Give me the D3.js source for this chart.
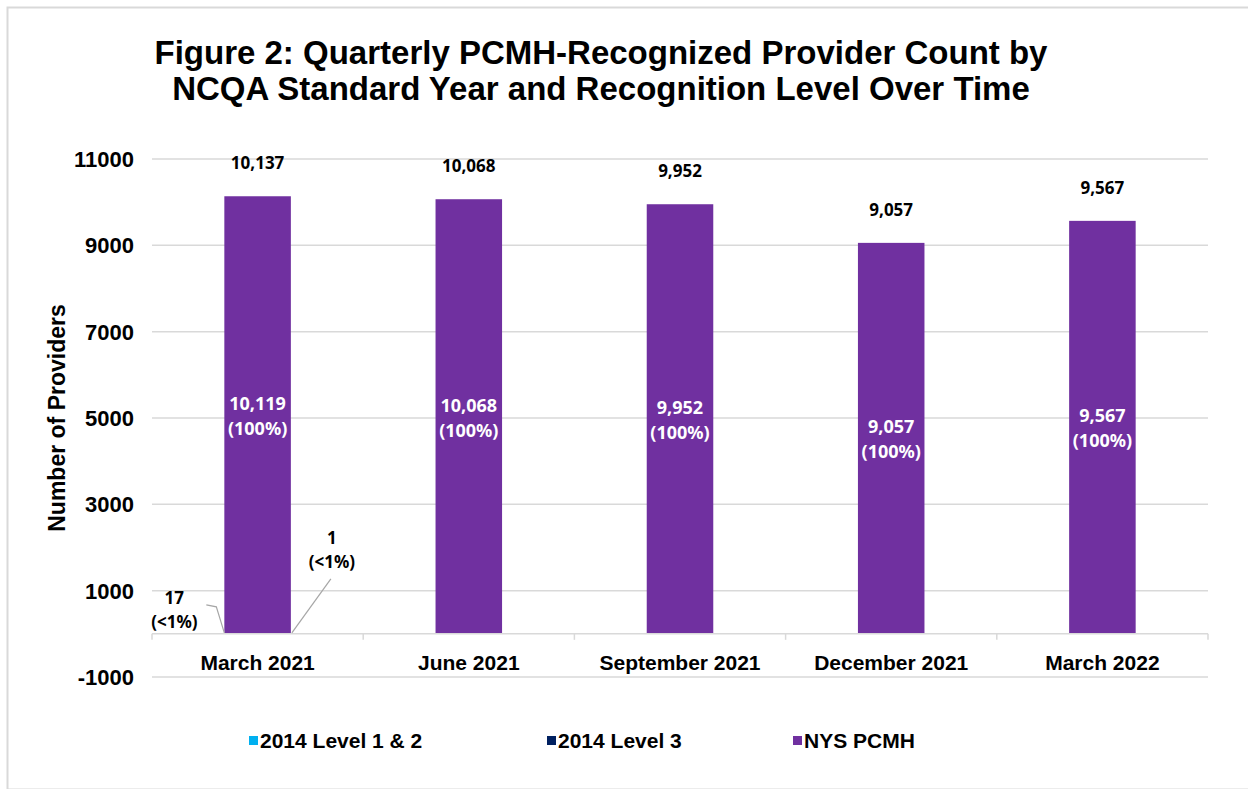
<!DOCTYPE html>
<html>
<head>
<meta charset="utf-8">
<script src="https://cdn.jsdelivr.net/npm/d3@7"></script>
<style>
  body { margin: 0; background: #fff; }
  svg { display: block; }
</style>
</head>
<body>
<svg id="chart" width="1248" height="789"></svg>
<script>
const categories = ["March 2021", "June 2021", "September 2021", "December 2021", "March 2022"];
const seriesNames = ["2014 Level 1 & 2", "2014 Level 3", "NYS PCMH"];
const level12 = [17, 0, 0, 0, 0];
const level3 = [1, 0, 0, 0, 0];
const nysPcmh = [10119, 10068, 9952, 9057, 9567];
const totals = [10137, 10068, 9952, 9057, 9567];
const yTicks = [-1000, 1000, 3000, 5000, 7000, 9000, 11000];
const colors = ["#00b0f0", "#002060", "#7030a0"];

const svgWidth = 1248;
const svgHeight = 789;
const plotLeft = 152;
const plotRight = 1208;
const plotTop = 159;
const plotBottom = 677;
const axisFont = "Liberation Sans, Arial, sans-serif";
const labelFont = "Noto Sans, Open Sans, sans-serif";

const svg = d3.select("#chart");

// outer frame
svg.append("rect")
  .attr("x", 7.5).attr("y", 7.5)
  .attr("width", svgWidth + 20).attr("height", svgHeight - 7)
  .attr("fill", "none").attr("stroke", "#d9d9d9").attr("stroke-width", 2);

// title
const title = svg.append("text")
  .attr("text-anchor", "middle")
  .attr("font-family", axisFont)
  .attr("font-weight", "bold")
  .attr("font-size", 33)
  .attr("fill", "#000");
title.append("tspan").attr("x", 601).attr("y", 64)
  .text("Figure 2: Quarterly PCMH-Recognized Provider Count by");
title.append("tspan").attr("x", 601).attr("y", 100)
  .text("NCQA Standard Year and Recognition Level Over Time");

const xScale = d3.scaleBand().domain(categories).range([plotLeft, plotRight]).padding(0);
const yScale = d3.scaleLinear().domain([-1000, 11000]).range([plotBottom, plotTop]);
const barWidth = xScale.bandwidth() * 0.315;
const barX = (c) => xScale(c) + (xScale.bandwidth() - barWidth) / 2;
const mid = (c) => xScale(c) + xScale.bandwidth() / 2;

// gridlines
svg.append("g")
  .selectAll("line")
  .data(yTicks)
  .enter()
  .append("line")
  .attr("x1", plotLeft).attr("x2", plotRight)
  .attr("y1", (d) => yScale(d)).attr("y2", (d) => yScale(d))
  .attr("stroke", "#d9d9d9").attr("stroke-width", 1.5);

// y tick labels
svg.append("g")
  .selectAll("text")
  .data(yTicks)
  .enter()
  .append("text")
  .attr("x", 134)
  .attr("y", (d) => yScale(d) + 8)
  .attr("text-anchor", "end")
  .attr("font-family", axisFont)
  .attr("font-weight", "bold")
  .attr("font-size", 22)
  .attr("fill", "#000")
  .text((d) => d);

// y axis title
svg.append("text")
  .attr("transform", `translate(65,${(plotTop + plotBottom) / 2}) rotate(-90)`)
  .attr("text-anchor", "middle")
  .attr("font-family", axisFont)
  .attr("font-weight", "bold")
  .attr("font-size", 23)
  .text("Number of Providers");

// stacked bars
const rows = categories.map((c, i) => ({ cat: c, a: level12[i], b: level3[i], c: nysPcmh[i] }));
const stack = d3.stack().keys(["a", "b", "c"])(rows);

svg.append("g")
  .selectAll("g")
  .data(stack)
  .enter()
  .append("g")
  .attr("fill", (d, i) => colors[i])
  .selectAll("rect")
  .data((d) => d)
  .enter()
  .append("rect")
  .attr("x", (d) => barX(d.data.cat))
  .attr("y", (d) => yScale(d[1]))
  .attr("width", barWidth)
  .attr("height", (d) => Math.max(0, yScale(d[0]) - yScale(d[1])));

// x axis line + ticks
const y0 = yScale(0);
svg.append("line")
  .attr("x1", plotLeft).attr("x2", plotRight)
  .attr("y1", y0).attr("y2", y0)
  .attr("stroke", "#d9d9d9").attr("stroke-width", 1.5);
const boundaries = categories.map((c) => xScale(c)).concat([plotRight]);
svg.append("g")
  .selectAll("line")
  .data(boundaries)
  .enter()
  .append("line")
  .attr("x1", (d) => d).attr("x2", (d) => d)
  .attr("y1", y0).attr("y2", y0 + 6)
  .attr("stroke", "#d9d9d9").attr("stroke-width", 1.5);

// category labels
svg.append("g")
  .selectAll("text")
  .data(categories)
  .enter()
  .append("text")
  .attr("x", (d) => mid(d))
  .attr("y", y0 + 36)
  .attr("text-anchor", "middle")
  .attr("font-family", axisFont)
  .attr("font-weight", "bold")
  .attr("font-size", 21)
  .text((d) => d);

const fmt = d3.format(",");

// totals above bars
svg.append("g")
  .selectAll("text")
  .data(totals)
  .enter()
  .append("text")
  .attr("x", (d, i) => mid(categories[i]))
  .attr("y", (d) => yScale(d) - 27)
  .attr("text-anchor", "middle")
  .attr("font-family", labelFont)
  .attr("font-weight", "bold")
  .attr("font-size", 17)
  .attr("fill", "#000")
  .text((d) => fmt(d));

// inner labels for NYS PCMH
const inner = svg.append("g")
  .selectAll("text")
  .data(stack[2])
  .enter()
  .append("text")
  .attr("text-anchor", "middle")
  .attr("font-family", labelFont)
  .attr("font-weight", "bold")
  .attr("font-size", 18)
  .attr("fill", "#fff");
inner.append("tspan")
  .attr("x", (d) => mid(d.data.cat))
  .attr("y", (d) => yScale((d[0] + d[1]) / 2) - 5)
  .text((d) => fmt(d.data.c));
inner.append("tspan")
  .attr("x", (d) => mid(d.data.cat))
  .attr("y", (d) => yScale((d[0] + d[1]) / 2) + 20)
  .text("(100%)");

// callouts for the tiny 2014 segments in March 2021
const leftEdge = barX(categories[0]);
const rightEdge = leftEdge + barWidth;
const callouts = [
  { value: level12[0], tx: leftEdge - 50, ty: y0 - 30,
    path: [[leftEdge - 18, y0 - 29], [leftEdge - 8, y0 - 27], [leftEdge, y0 - 1]] },
  { value: level3[0], tx: rightEdge + 41, ty: y0 - 90,
    path: [[rightEdge + 40, y0 - 55], [rightEdge + 1, y0 - 1]] },
];
callouts.forEach((c) => {
  svg.append("path")
    .attr("d", d3.line()(c.path))
    .attr("fill", "none").attr("stroke", "#a6a6a6").attr("stroke-width", 1.2);
  const t = svg.append("text")
    .attr("text-anchor", "middle")
    .attr("font-family", labelFont)
    .attr("font-weight", "bold")
    .attr("font-size", 17)
    .attr("fill", "#000");
  t.append("tspan").attr("x", c.tx).attr("y", c.ty).text(fmt(c.value));
  t.append("tspan").attr("x", c.tx).attr("y", c.ty + 24).text("(<1%)");
});

// legend
const legendX = [249, 547, 793];
const legend = svg.append("g")
  .selectAll("g")
  .data(seriesNames)
  .enter()
  .append("g")
  .attr("transform", (d, i) => `translate(${legendX[i]},741)`);
legend.append("rect")
  .attr("x", 0).attr("y", -5)
  .attr("width", 9).attr("height", 9)
  .attr("fill", (d, i) => colors[i]);
legend.append("text")
  .attr("x", 11).attr("y", 7)
  .attr("font-family", axisFont)
  .attr("font-weight", "bold")
  .attr("font-size", 21)
  .text((d) => d);
</script>
</body>
</html>
